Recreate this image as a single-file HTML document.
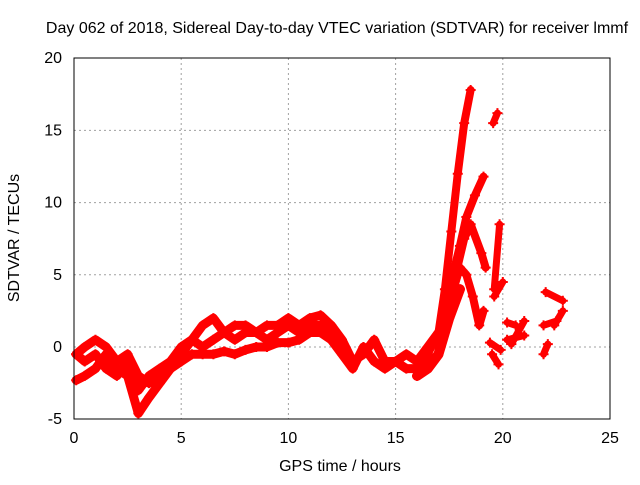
<!DOCTYPE html>
<html><head><meta charset="utf-8"><style>
body{margin:0;background:#fff;}
svg text{font-family:"Liberation Sans",sans-serif;font-size:16px;fill:#000;}
</style></head><body>
<svg id="chart" width="640" height="480">
<text x="337" y="33" text-anchor="middle">Day 062 of 2018, Sidereal Day-to-day VTEC variation (SDTVAR) for receiver lmmf</text>
<text x="340" y="471" text-anchor="middle">GPS time / hours</text>
<text transform="translate(19,238) rotate(-90)" text-anchor="middle">SDTVAR / TECUs</text>
<g id="grid"></g><g id="ticks"></g><g id="marks"></g>
<rect x="74" y="58" width="536" height="361" fill="none" stroke="#000" stroke-width="1"/>
</svg>
<script>
const xTicks=[0,5,10,15,20,25];
const yTicks=[-5,0,5,10,15,20];
const upperT=[0.1,0.5,1,1.5,2,2.5,3,3.5,4,4.5,5,5.5,6,6.5,7,7.5,8,8.5,9,9.5,10,10.5,11,11.5,12];
const upperV=[-0.5,0,0.5,0,-1,-0.5,-2,-2.5,-2,-1.5,-0.5,0.5,1.5,2,1,1.5,1.5,1,1.5,1.5,2,1.5,2,2.2,1.5];
const middleT=[0.1,0.5,1,1.5,2,2.5,3,3.5,4,4.5,5,5.5,6,6.5,7,7.5,8,8.5,9,9.5,10,10.5,11,11.5,12];
const middleV=[-0.5,-1,-0.5,-1.5,-2,-1,-3,-2,-1.5,-1,0,0.5,0,0.5,1,0.5,1,1,0.5,1,1.5,1,1.5,1.5,1];
const lowerT=[0.1,0.5,1,1.5,2,2.5,3,3.5,4,4.5,5,5.5,6,6.5,7,7.5,8,8.5,9,9.5,10,10.5,11,11.5,12];
const lowerV=[-2.3,-2,-1.5,-0.5,-1.5,-2,-4.6,-3.5,-2.5,-1.5,-1,-0.5,-0.5,-0.5,-0.3,-0.5,-0.2,0,0,0.3,0.3,0.5,1,1,0.5];
const lateT=[12,12.5,13,13.5,14,14.5,15,15.5,16,16.5,17];
const lateV=[1.5,0.5,-1,-0.5,0.5,-1,-1,-0.5,-1,0,1];
const late2T=[12,12.5,13,13.5,14,14.5,15,15.5,16,16.5];
const late2V=[0.5,-0.5,-1.5,0,-1,-1.5,-1,-1.5,-1.5,-0.5];
const spikeT=[16.5,17,17.3,17.6,17.9,18.2,18.5];
const spikeV=[-0.5,1,4,8,12,15.5,17.8];
const branch2T=[17,17.5,18,18.3,18.7,19.1];
const branch2V=[0,4,7,9,10.5,11.8];
const branch3T=[17.2,17.8,18.2,18.5,19,19.2];
const branch3V=[1,5,7.5,8.5,6.5,5.5];
const branch4T=[17.5,18,18.3,18.6,18.9,19.1];
const branch4V=[3,5.5,5,3.5,1.5,2.5];
const branch5T=[16,16.5,17,17.5,18];
const branch5V=[-2,-1.5,-0.5,2,4];
const scatterGroups=[
 [[19.55,19.75],[15.5,16.2]],
 [[19.6,19.85],[4,8.5]],
 [[19.6,20],[3.5,4.5]],
 [[19.5,19.8],[-0.5,-1.2]],
 [[19.4,19.9],[0.3,-0.2]],
 [[20.2,20.6],[1.7,1.5]],
 [[20.2,21],[0.5,0.8]],
 [[20.4,21],[0.2,1.8]],
 [[21.9,22.1],[-0.5,0.2]],
 [[21.9,22.5],[1.5,1.8]],
 [[22,22.8],[3.8,3.2]],
 [[22.4,22.8],[1.5,2.5]]
];
const X=t=>74+t*(536/25);
const Y=v=>347-v*(361/25);
const NS="http://www.w3.org/2000/svg";
const grid=document.getElementById('grid'),ticks=document.getElementById('ticks'),marks=document.getElementById('marks');
xTicks.forEach(t=>{
 if(t>0&&t<25){const l=document.createElementNS(NS,'line');
 l.setAttribute('x1',X(t));l.setAttribute('x2',X(t));l.setAttribute('y1',58);l.setAttribute('y2',419);
 l.setAttribute('stroke','#a0a0a0');l.setAttribute('stroke-dasharray','2,3');
 
 
 grid.appendChild(l);}
 const tx=document.createElementNS(NS,'text');
 tx.setAttribute('x',X(t));tx.setAttribute('y',443);tx.setAttribute('text-anchor','middle');
 tx.textContent=t;
 
 
 ticks.appendChild(tx);
});
yTicks.forEach(v=>{
 if(v>-5&&v<20){const l=document.createElementNS(NS,'line');
 l.setAttribute('x1',74);l.setAttribute('x2',610);l.setAttribute('y1',Y(v));l.setAttribute('y2',Y(v));
 l.setAttribute('stroke','#a0a0a0');l.setAttribute('stroke-dasharray','2,3');
 
 
 grid.appendChild(l);}
 const tx=document.createElementNS(NS,'text');
 tx.setAttribute('x',62);tx.setAttribute('y',Y(v)+5);tx.setAttribute('text-anchor','end');
 tx.textContent=v;
 
 
 ticks.appendChild(tx);
});
function track(ts,vs,name,w){
 const p=document.createElementNS(NS,'polyline');
 p.setAttribute('points',ts.map((t,i)=>X(t)+','+Y(vs[i])).join(' '));
 p.setAttribute('fill','none');p.setAttribute('stroke','#ff0000');p.setAttribute('stroke-width',w);
 p.setAttribute('stroke-linejoin','round');p.setAttribute('stroke-linecap','round');
 
 
 marks.appendChild(p);
 ts.forEach((t,i)=>{
  const m=document.createElementNS(NS,'path');
  const x=X(t),y=Y(vs[i]);
  m.setAttribute('d',`M${x-5},${y}H${x+5}M${x},${y-5}V${y+5}`);
  m.setAttribute('stroke','#ff0000');m.setAttribute('stroke-width',2);
  
  
  marks.appendChild(m);
 });
}
track(upperT,upperV,'upper-track',9);
track(middleT,middleV,'middle-track',9);
track(lowerT,lowerV,'lower-track',9);
track(lateT,lateV,'late-track',9);
track(late2T,late2V,'late-track-2',9);
track(spikeT,spikeV,'spike-track',8);
track(branch2T,branch2V,'branch-2-track',8);
track(branch3T,branch3V,'branch-3-track',8);
track(branch4T,branch4V,'branch-4-track',8);
track(branch5T,branch5V,'branch-5-track',10);
scatterGroups.forEach(g=>track(g[0],g[1],'scatter-group',7));
</script>
</body></html>
